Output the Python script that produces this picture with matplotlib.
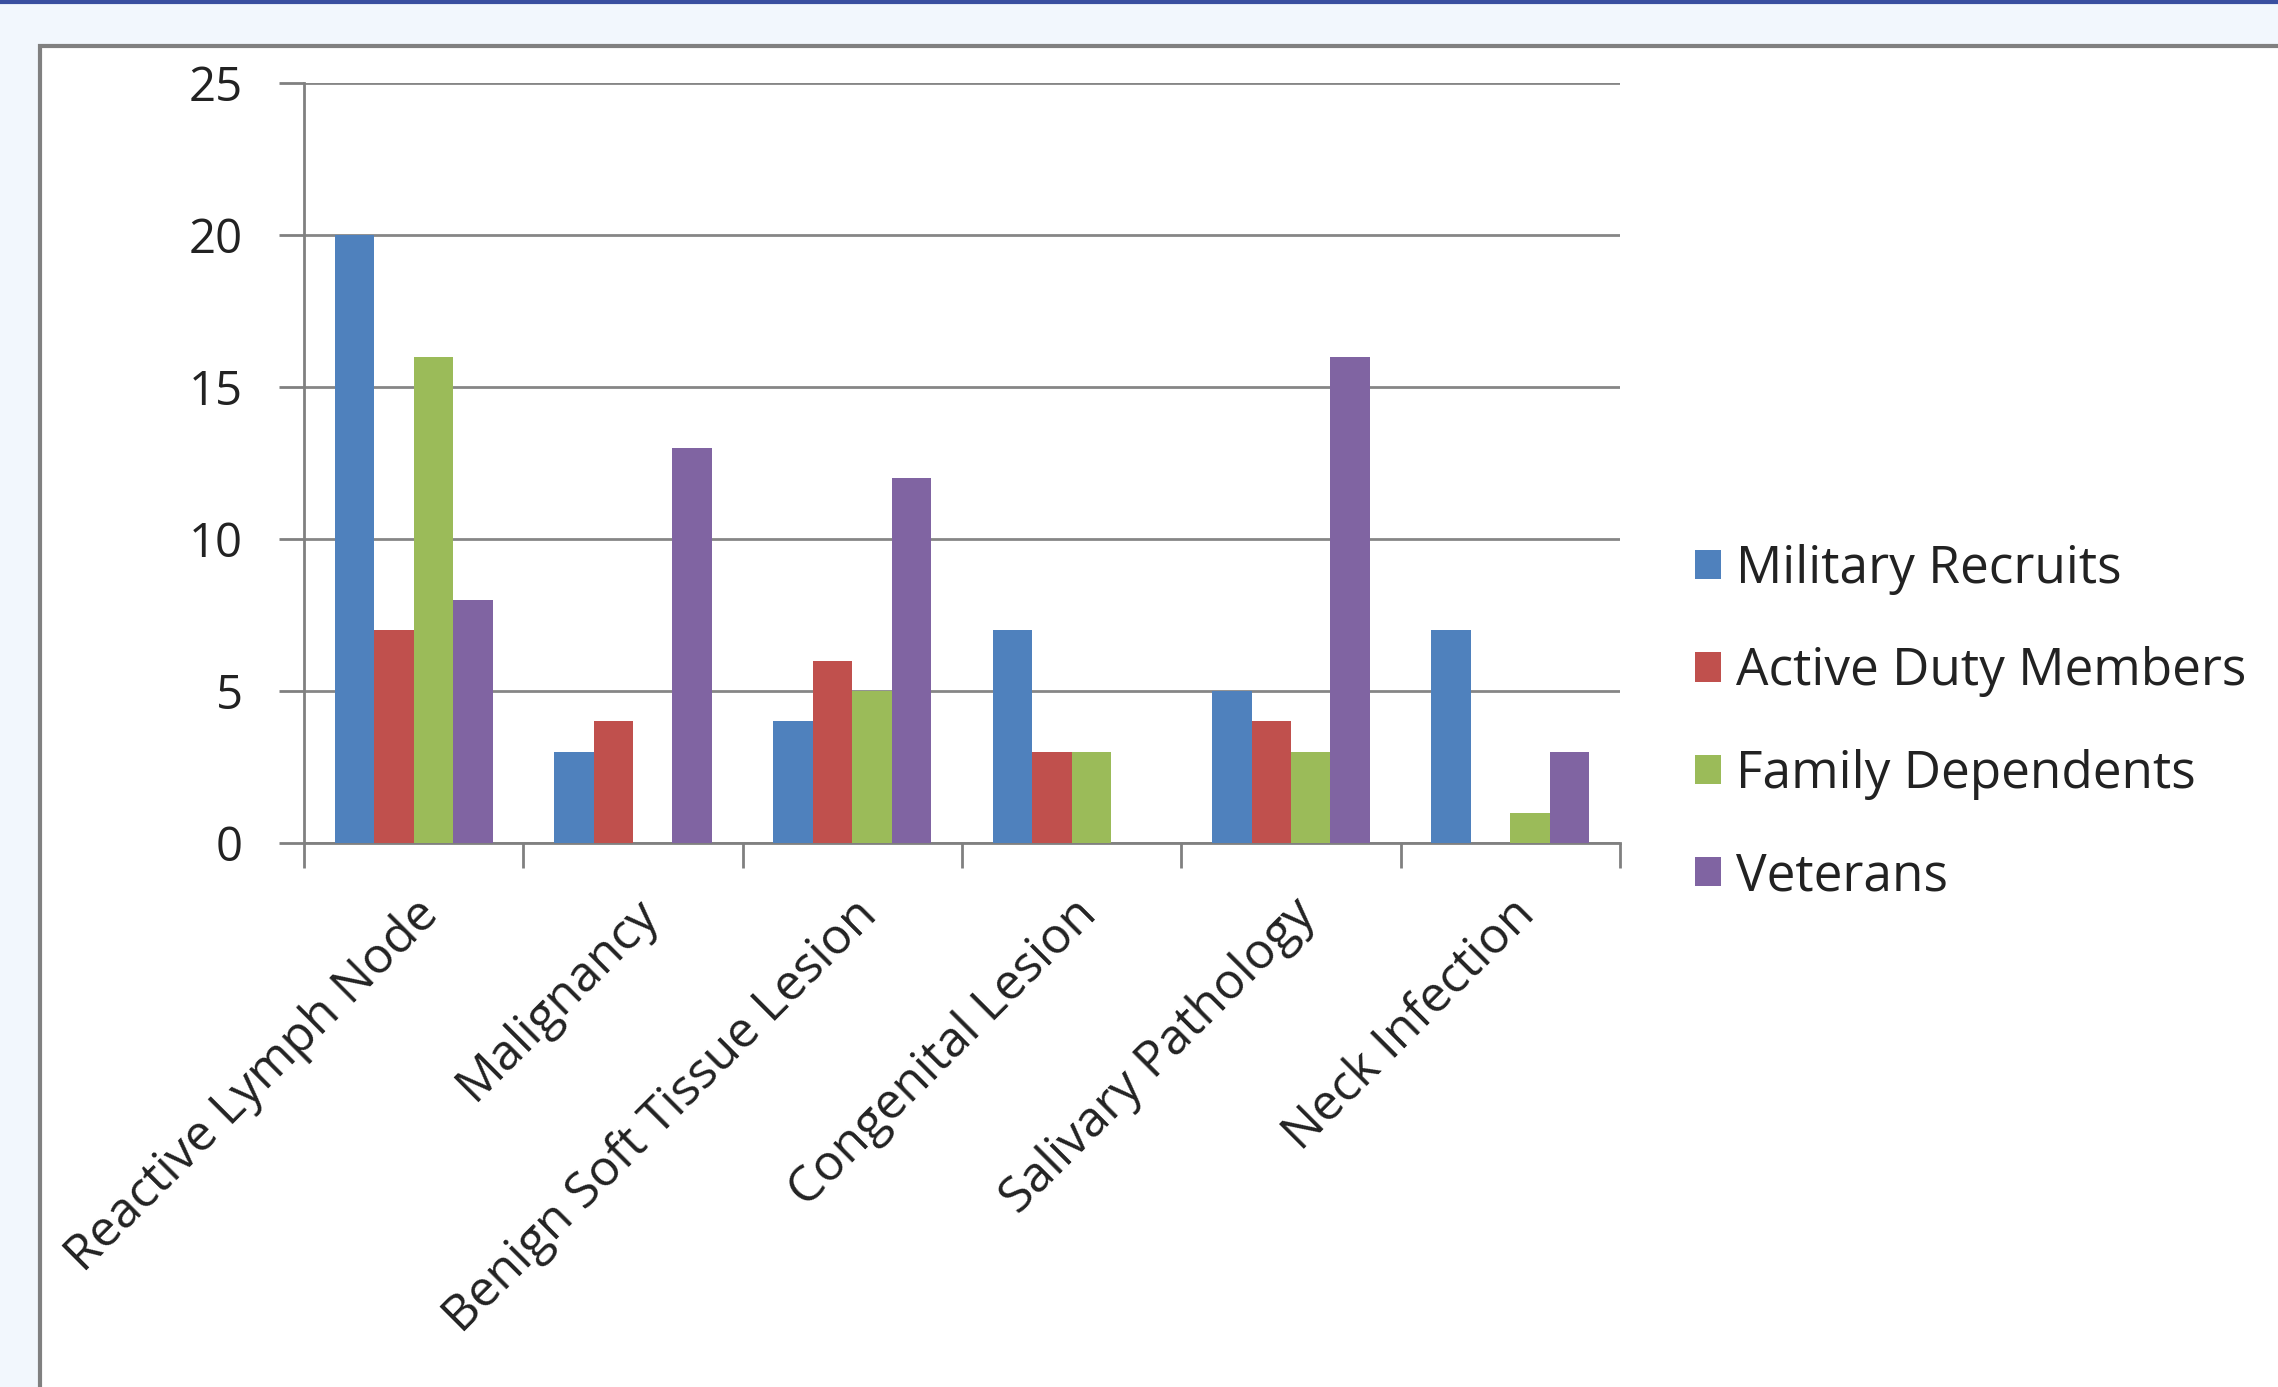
import numpy as np
import matplotlib
matplotlib.use("Agg")
from matplotlib import pyplot as plt
from matplotlib.patches import Rectangle
from matplotlib.lines import Line2D

categories = ["Reactive Lymph Node", "Malignancy", "Benign Soft Tissue Lesion",
              "Congenital Lesion", "Salivary Pathology", "Neck Infection"]
series_names = ["Military Recruits", "Active Duty Members", "Family Dependents", "Veterans"]
military_recruits = [20, 3, 4, 7, 5, 7]
active_duty = [7, 4, 6, 3, 4, 0]
family_dependents = [16, 0, 5, 3, 3, 1]
veterans = [8, 13, 12, 0, 16, 3]
colors = ["#4F81BD", "#C0504D", "#9BBB59", "#8064A2"]
y_ticks = [0, 5, 10, 15, 20, 25]

plt.rcParams['font.family'] = ['Open Sans', 'DejaVu Sans']

W, H = 2278, 1387
fig = plt.figure(figsize=(W / 100, H / 100), dpi=100)
fig.patch.set_facecolor("#F2F7FD")

# white chart panel with grey border, blue rule on top
fig.add_artist(Rectangle((40 / W, -0.01), 1.0, 1 - 46 / H + 0.01, transform=fig.transFigure,
                         facecolor="white", edgecolor="#808080", linewidth=3, zorder=0))
fig.add_artist(Line2D([0, 1], [1 - 2 / H, 1 - 2 / H], transform=fig.transFigure,
                      color="#3A4FA0", linewidth=3))

ax = fig.add_axes([304 / W, 544 / H, (1620 - 304) / W, (843 - 83) / H])
ax.set_facecolor("none")

all_series = [military_recruits, active_duty, family_dependents, veterans]
x = np.arange(len(categories))
bar_w = 0.18
for i, (name, vals) in enumerate(zip(series_names, all_series)):
    ax.bar(x + (i - 1.5) * bar_w, vals, width=bar_w, color=colors[i], label=name, zorder=3)

ax.set_xlim(-0.5, len(categories) - 0.5)
ax.set_ylim(0, 25)
ax.set_yticks(y_ticks)
ax.set_yticklabels([str(t) for t in y_ticks])
ax.yaxis.grid(True, color="#868686", linewidth=2, zorder=0)

ax.set_xticks(np.arange(len(categories) + 1) - 0.5)
ax.set_xticklabels([])
ax.set_xticks(x, minor=True)
ax.set_xticklabels(categories, minor=True, rotation=45, ha="right", va="top",
                   rotation_mode="anchor", fontsize=36, color="#222222")
ax.tick_params(axis="x", which="minor", length=0, pad=34)
ax.tick_params(axis="x", which="major", length=18, width=2, color="#808080", direction="out")
ax.tick_params(axis="y", length=18, width=2, color="#808080", direction="out",
               labelsize=34, pad=26, labelcolor="#222222")

for side in ["top", "right"]:
    ax.spines[side].set_visible(False)
ax.spines["left"].set_color("#808080")
ax.spines["left"].set_linewidth(2)
ax.spines["bottom"].set_color("#808080")
ax.spines["bottom"].set_linewidth(2)

leg = ax.legend(loc="center left", bbox_to_anchor=(1.057, 0.158), frameon=False,
                fontsize=37, handlelength=0.5, handleheight=0.5, handletextpad=0.3,
                labelspacing=1.0, borderaxespad=0, borderpad=0)
for t in leg.get_texts():
    t.set_color("#222222")

fig.savefig("out.png", dpi=100, facecolor=fig.get_facecolor())
